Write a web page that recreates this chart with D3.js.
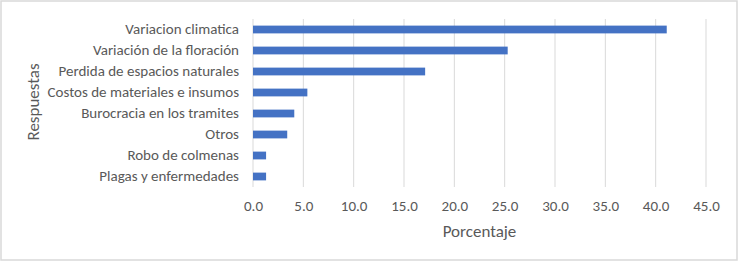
<!DOCTYPE html>
<html>
<head>
<meta charset="utf-8">
<script src="https://cdn.jsdelivr.net/npm/d3@7"></script>
<style>
  body { margin: 0; background: #fff; }
  text { font-family: Calibri, Carlito, "Open Sans", sans-serif; fill: #595959; }
</style>
</head>
<body>
<div id="chart"></div>
<script>
// Data, top to bottom as shown
const categories = [
    'Variacion climatica',
    'Variación de la floración',
    'Perdida de espacios naturales',
    'Costos de materiales e insumos',
    'Burocracia en los tramites',
    'Otros',
    'Robo de colmenas',
    'Plagas y enfermedades'
];
const values = [41.1, 25.3, 17.1, 5.4, 4.1, 3.4, 1.3, 1.3];
const xTicks = [0, 5, 10, 15, 20, 25, 30, 35, 40, 45];

const width = 739;
const height = 262;
const margin = { top: 19, right: 33, bottom: 75, left: 253 };
const plotBottom = 187;

const svg = d3.select('#chart')
    .append('svg')
    .attr('width', width)
    .attr('height', height);

// Outer frame
svg.append('rect')
    .attr('x', 1)
    .attr('y', 1)
    .attr('width', width - 3)
    .attr('height', height - 3)
    .attr('fill', 'none')
    .attr('stroke', '#d9d9d9')
    .attr('stroke-width', 1.5);

const xScale = d3.scaleLinear()
    .domain([0, 45])
    .range([margin.left, width - margin.right]);

const yScale = d3.scaleBand()
    .domain(categories)
    .range([margin.top, plotBottom])
    .paddingInner(0.63)
    .paddingOuter(0.315);

// Gridlines
svg.append('g')
    .selectAll('line')
    .data(xTicks)
    .enter()
    .append('line')
    .attr('x1', d => xScale(d))
    .attr('x2', d => xScale(d))
    .attr('y1', margin.top)
    .attr('y2', plotBottom)
    .attr('stroke', '#d9d9d9')
    .attr('stroke-width', 1);

// Bars
svg.append('g')
    .selectAll('rect')
    .data(values)
    .enter()
    .append('rect')
    .attr('x', xScale(0))
    .attr('y', (d, i) => yScale(categories[i]))
    .attr('width', d => xScale(d) - xScale(0))
    .attr('height', yScale.bandwidth())
    .attr('fill', '#4472c4');

// x-axis tick labels
const xAxis = d3.axisBottom(xScale)
    .tickValues(xTicks)
    .tickFormat(d3.format('.1f'))
    .tickSize(0)
    .tickPadding(0);
const gx = svg.append('g')
    .attr('transform', `translate(0, ${plotBottom + 13})`)
    .call(xAxis);
gx.select('.domain').remove();
gx.selectAll('text')
    .style('font-size', '15px')
    .attr('fill', '#595959');

// y-axis category labels
const yAxis = d3.axisLeft(yScale).tickSize(0).tickPadding(14);
const gy = svg.append('g')
    .attr('transform', `translate(${margin.left}, 0)`)
    .call(yAxis);
gy.select('.domain').remove();
gy.selectAll('text')
    .style('font-size', '15px')
    .attr('fill', '#595959');

// Axis titles
svg.append('text')
    .attr('x', (xScale(0) + xScale(45)) / 2)
    .attr('y', 237)
    .style('text-anchor', 'middle')
    .style('font-size', '17px')
    .text('Porcentaje');

svg.append('text')
    .attr('transform', 'rotate(-90)')
    .attr('x', -102)
    .attr('y', 39)
    .style('text-anchor', 'middle')
    .style('font-size', '17px')
    .text('Respuestas');
</script>
</body>
</html>
